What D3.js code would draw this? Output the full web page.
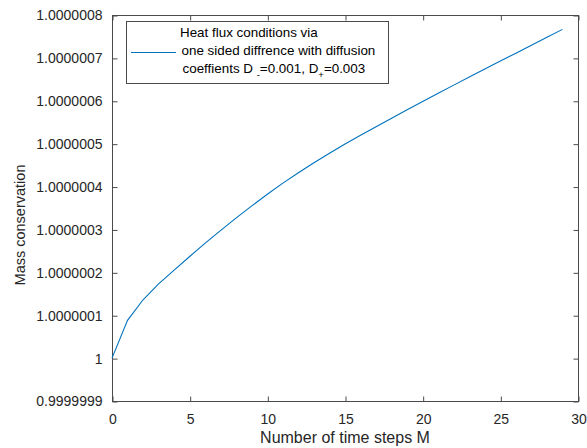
<!DOCTYPE html>
<html>
<head>
<meta charset="utf-8">
<script src="https://cdn.jsdelivr.net/npm/d3@7/dist/d3.min.js"></script>
<style>
  html, body { margin: 0; padding: 0; background: #fff; }
  svg { display: block; font-family: "Liberation Sans", Arial, Helvetica, sans-serif; }
</style>
</head>
<body>
<svg id="chart" width="587" height="448"></svg>
<script>
// Time step index M
const steps = d3.range(0, 30);
// Mass conservation ratio at each time step
const mass = [
  1.000000000, 1.000000088, 1.000000136, 1.000000173, 1.000000205,
  1.000000237, 1.000000268, 1.000000298, 1.000000327, 1.000000355,
  1.000000382, 1.000000408, 1.000000432, 1.0000004555, 1.0000004775,
  1.000000499, 1.0000005195, 1.0000005395, 1.0000005595, 1.000000579,
  1.0000005985, 1.0000006175, 1.0000006365, 1.0000006555, 1.000000674,
  1.0000006925, 1.000000711, 1.0000007295, 1.000000748, 1.0000007665
];
const xTicks = [0, 5, 10, 15, 20, 25, 30];
const yTicks = [0.9999999, 1, 1.0000001, 1.0000002, 1.0000003, 1.0000004,
                1.0000005, 1.0000006, 1.0000007, 1.0000008];
const yTickLabels = ["0.9999999", "1", "1.0000001", "1.0000002", "1.0000003",
                     "1.0000004", "1.0000005", "1.0000006", "1.0000007", "1.0000008"];
const legendLines = ["Heat flux conditions via", "one sided diffrence with diffusion"];

const svg = d3.select("#chart");
const m = { left: 112, right: 578, top: 15, bottom: 401 };
const axisColor = "#4a4a4a";
const textColor = "#262626";

const x = d3.scaleLinear().domain([0, 30]).range([m.left, m.right]);
const y = d3.scaleLinear().domain([0.9999999, 1.0000008]).range([m.bottom, m.top]);

const tickLen = 5;

// Plot frame
const g = svg.append("g");
g.append("rect")
  .attr("x", m.left + 0.5).attr("y", m.top + 0.5)
  .attr("width", m.right - m.left).attr("height", m.bottom - m.top)
  .attr("fill", "none").attr("stroke", axisColor).attr("stroke-width", 1);

// Bottom axis with inward ticks, mirrored on top
const xAxis = d3.axisBottom(x).tickValues(xTicks).tickSize(-tickLen).tickPadding(13)
  .tickFormat(d3.format("d"));
const gx = g.append("g").attr("transform", `translate(0.5,${m.bottom + 0.5})`).call(xAxis);
const xTop = d3.axisTop(x).tickValues(xTicks).tickSize(-tickLen).tickFormat("");
const gxt = g.append("g").attr("transform", `translate(0.5,${m.top + 0.5})`).call(xTop);

// Left axis with inward ticks, mirrored on right
const yAxis = d3.axisLeft(y).tickValues(yTicks).tickSize(-tickLen).tickPadding(10)
  .tickFormat((d, i) => yTickLabels[i]);
const gy = g.append("g").attr("transform", `translate(${m.left + 0.5},0.5)`).call(yAxis);
const yRight = d3.axisRight(y).tickValues(yTicks).tickSize(-tickLen).tickFormat("");
const gyr = g.append("g").attr("transform", `translate(${m.right + 0.5},0.5)`).call(yRight);

[gx, gxt, gy, gyr].forEach(a => {
  a.select(".domain").remove();
  a.selectAll(".tick line").attr("stroke", axisColor);
  a.selectAll(".tick text").attr("fill", textColor)
    .style("font-size", "14px").style("font-family", "Liberation Sans, Arial, sans-serif");
});

// Data line
const line = d3.line().x((d, i) => x(steps[i])).y(d => y(d));
g.append("path").datum(mass)
  .attr("d", line)
  .attr("fill", "none").attr("stroke", "#0072BD").attr("stroke-width", 1.1);

// Axis titles
svg.append("text")
  .attr("x", (m.left + m.right) / 2).attr("y", 443)
  .attr("text-anchor", "middle").attr("fill", textColor)
  .style("font-size", "16px")
  .text("Number of time steps M");
svg.append("text")
  .attr("transform", `translate(25,${(m.top + m.bottom) / 2 + 17}) rotate(-90)`)
  .attr("text-anchor", "middle").attr("fill", textColor)
  .style("font-size", "14.5px")
  .text("Mass conservation");

// Legend
const lg = svg.append("g");
lg.append("rect")
  .attr("x", 126.5).attr("y", 21.5).attr("width", 262).attr("height", 62)
  .attr("fill", "#fff").attr("stroke", axisColor).attr("stroke-width", 1);
lg.append("line")
  .attr("x1", 131).attr("x2", 176).attr("y1", 52.5).attr("y2", 52.5)
  .attr("stroke", "#0072BD").attr("stroke-width", 1.1);
const lt = lg.append("g").attr("fill", "#000").style("font-size", "13.4px");
lt.append("text").attr("x", 180).attr("y", 37).text(legendLines[0]);
lt.append("text").attr("x", 181.5).attr("y", 55).text(legendLines[1]);
const t3 = lt.append("text").attr("x", 182.5).attr("y", 72.5);
t3.append("tspan").text("coeffients D ");
t3.append("tspan").attr("dy", 5).style("font-size", "9.5px").text("-");
t3.append("tspan").attr("dy", -5).text("=0.001, D");
t3.append("tspan").attr("dy", 5).style("font-size", "9.5px").text("+");
t3.append("tspan").attr("dy", -5).text("=0.003");
</script>
</body>
</html>
